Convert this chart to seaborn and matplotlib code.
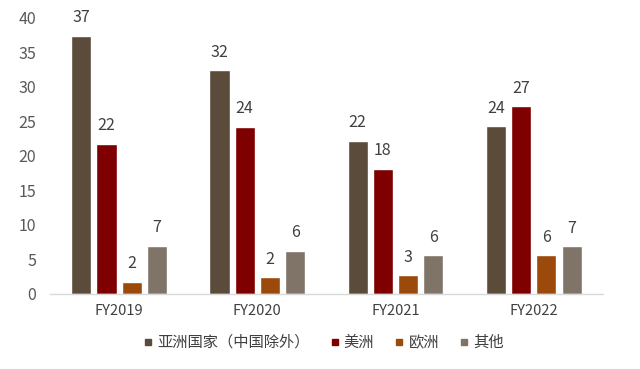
import matplotlib
matplotlib.use("Agg")
import matplotlib.pyplot as plt
import seaborn as sns
import pandas as pd
from matplotlib.lines import Line2D

years = ["FY2019", "FY2020", "FY2021", "FY2022"]
series = ["亚洲国家（中国除外）", "美洲", "欧洲", "其他"]
asia = [37.4, 32.4, 22.2, 24.3]
america = [21.8, 24.2, 18.1, 27.2]
europe = [1.8, 2.4, 2.7, 5.6]
other = [7.0, 6.2, 5.6, 6.9]
colors = ["#5B4B3B", "#7E0000", "#9C4A0C", "#807468"]

rows = []
for name, vals in zip(series, [asia, america, europe, other]):
    for y, v in zip(years, vals):
        rows.append({"year": y, "series": name, "value": v})
df = pd.DataFrame(rows)

sns.set_theme(style="white")
plt.rcParams["font.family"] = ["Noto Sans CJK SC", "DejaVu Sans"]
plt.rcParams["font.weight"] = "light"

fig = plt.figure(figsize=(6.4, 3.69), dpi=100)
ax = fig.add_axes([0.078, 0.2033, 0.864, 0.748])
sns.barplot(data=df, x="year", y="value", hue="series", palette=colors,
            width=0.73, gap=0.2, ax=ax, legend=False, saturation=1)

for c in ax.containers:
    ax.bar_label(c, fmt="%.0f", padding=7, fontsize=11.5, color="#404040", clip_on=False)

ax.set_ylim(0, 40)
ax.set_yticks(range(0, 41, 5))
ax.set_xlim(-0.5, 3.5)
ax.set_xlabel("")
ax.set_ylabel("")
for s in ["top", "right", "left"]:
    ax.spines[s].set_visible(False)
ax.spines["bottom"].set_color("#D9D9D9")
ax.spines["bottom"].set_linewidth(1)
ax.tick_params(axis="y", length=0, pad=10, labelsize=11.5, labelcolor="#595959")
ax.tick_params(axis="x", length=0, pad=7, labelsize=10.5, labelcolor="#404040")

handles = [Line2D([0], [0], marker="s", linestyle="", markersize=5,
                  markerfacecolor=c, markeredgecolor=c) for c in colors]
fig.legend(handles, series, loc="center", bbox_to_anchor=(0.505, 0.072), ncol=4,
           frameon=False, fontsize=11, handlelength=0.7, handletextpad=0.25,
           columnspacing=1.3, labelcolor="#404040")

fig.savefig("out.png", dpi=100)
